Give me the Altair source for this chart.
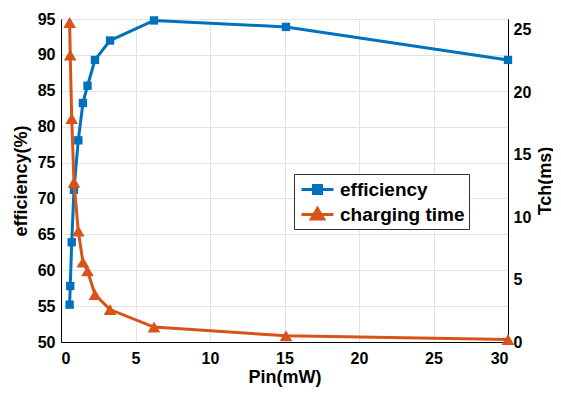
import altair as alt
import pandas as pd

pin = [0.58, 0.62, 0.72, 0.87, 1.16, 1.47, 1.78, 2.28, 3.29, 6.24, 15.1, 30.0]
efficiency = [55.2, 57.8, 63.9, 71.2, 78.1, 83.3, 85.7, 89.3, 92.0, 94.8, 93.9, 89.3]
tch = [25.6, 23.0, 17.9, 12.8, 8.9, 6.4, 5.7, 3.8, 2.6, 1.2, 0.5, 0.2]
series = ["efficiency", "charging time"]
colors = ["#0072BD", "#D95319"]

df_eff = pd.DataFrame({"pin": pin, "value": efficiency, "series": series[0]})
df_tch = pd.DataFrame({"pin": pin, "value": tch, "series": series[1]})

FONT = "Liberation Sans"
color_scale = alt.Scale(domain=series, range=colors)

sq = "M-1.6,0H1.6M-0.4,-0.4H0.4V0.4H-0.4Z"
tri = "M-1.6,0H1.6M0,-0.6L0.62,0.45H-0.62Z"
legend = alt.Legend(
    title=None, orient="none", legendX=233, legendY=155,
    labelFont=FONT, labelFontSize=19, labelFontWeight="bold", labelColor="black",
    strokeColor="#333333", fillColor="white", padding=4, symbolOffset=8,
    labelOffset=11, rowPadding=2, symbolSize=400, symbolStrokeWidth=3,
)

x_enc = alt.X("pin:Q", scale=alt.Scale(domain=[0, 30], nice=False),
              axis=alt.Axis(title="Pin(mW)", values=[0, 5, 10, 15, 20, 25, 30],
                            labelPadding=8, titleX=223.5, titleY=40,
                            titleBaseline="alphabetic", titleAlign="center"))

y_left = alt.Y("value:Q", scale=alt.Scale(domain=[50, 95], nice=False, zero=False),
               axis=alt.Axis(title="efficiency(%)", values=list(range(50, 96, 5)), orient="left",
                             labelPadding=6, titlePadding=7))
y_right = alt.Y("value:Q", scale=alt.Scale(domain=[0, 25.88], nice=False),
                axis=alt.Axis(title="Tch(ms)", values=[0, 5, 10, 15, 20, 25], orient="right", grid=False,
                              labelPadding=5, titleAngle=270, titleX=37, titleY=161.5,
                              titleAlign="center", titleBaseline="middle"))

eff_line = alt.Chart(df_eff).mark_line(strokeWidth=3, color=colors[0]).encode(x=x_enc, y=y_left)
eff_pts = alt.Chart(df_eff).mark_point(shape="square", filled=True, size=70, opacity=1,
                                       color=colors[0]).encode(x=x_enc, y=y_left)
legend_layer = alt.Chart(pd.concat([df_eff, df_tch])).transform_filter("false").mark_point(
    filled=True, opacity=1, strokeWidth=3, size=400).encode(
    x=x_enc, y=y_left,
    fill=alt.Fill("series:N", scale=color_scale, legend=legend),
    stroke=alt.Stroke("series:N", scale=color_scale, legend=legend),
    shape=alt.Shape("series:N", scale=alt.Scale(domain=series, range=[sq, tri]), legend=legend),
)
left = alt.layer(eff_line, eff_pts, legend_layer)

tch_line = alt.Chart(df_tch).mark_line(strokeWidth=3, color=colors[1]).encode(x=x_enc, y=y_right)
tch_pts = alt.Chart(df_tch).mark_point(shape="triangle-up", filled=True, size=160, opacity=1,
                                       color=colors[1]).encode(x=x_enc, y=y_right)
right = alt.layer(tch_line, tch_pts)

chart = alt.layer(left, right).resolve_scale(y="independent").properties(
    width=447, height=323,
    autosize=alt.AutoSizeParams(type="none"),
    padding={"left": 53, "top": 11, "right": 45, "bottom": 46},
).configure_view(stroke="black", strokeWidth=1).configure_axis(
    labelFont=FONT, labelFontSize=16, labelFontWeight="bold", labelColor="black",
    titleFont=FONT, titleFontSize=18, titleFontWeight="bold", titleColor="black",
    domainColor="black", domainWidth=1, ticks=False,
    gridColor="#E3E3E3", gridWidth=1,
)

chart.save("out.html", embed_options={"renderer": "svg", "actions": False})
